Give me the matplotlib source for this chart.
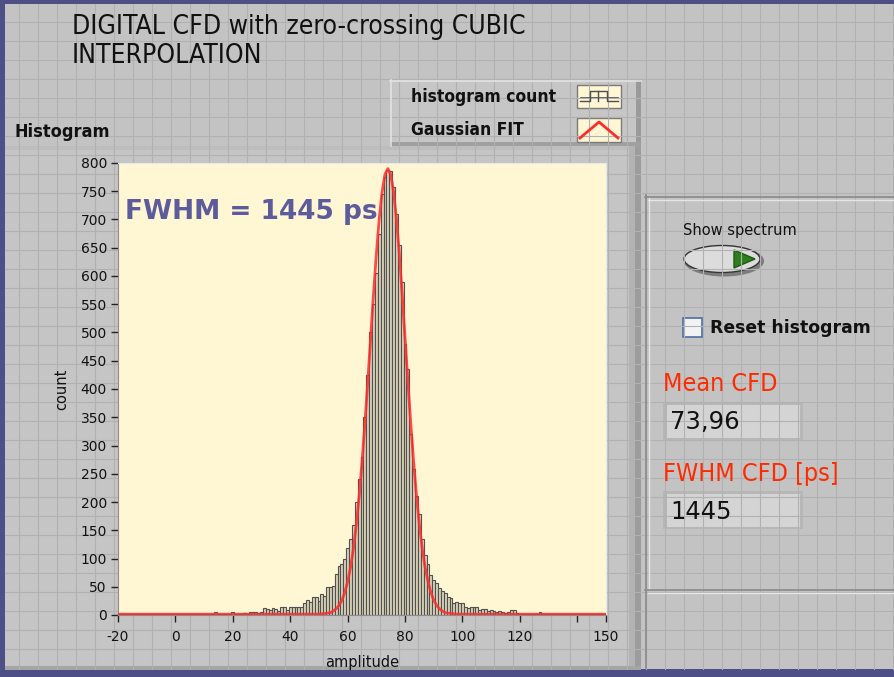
import matplotlib
matplotlib.use("Agg")
import matplotlib.pyplot as plt
from matplotlib.patches import Rectangle, Ellipse, Polygon
from matplotlib import font_manager
import numpy as np

W, H = 894, 677

# histogram bins (amplitude) and counts
amplitude = list(range(-20, 151))
counts = [
    1, 2, 1, 1, 2, 1, 1, 1, 2, 1, 1, 1, 1, 1, 2, 1, 1, 1, 1, 1,          # -20..-1
    1, 2, 1, 1, 2, 1, 1, 2, 1, 1, 2, 1, 1, 2, 5, 2, 1, 2, 1, 2,          # 0..19
    5, 2, 2, 1, 3, 2, 6, 5, 6, 4, 6, 12, 11, 9, 12, 10, 7, 14, 15, 9,    # 20..39
    15, 14, 15, 14, 15, 21, 26, 23, 31, 32, 25, 38, 33, 50, 50, 51, 72, 87, 90, 100,  # 40..59
    118, 135, 160, 200, 240, 280, 350, 425, 500, 550, 605, 675, 745, 776, 787, 786, 758, 710, 655, 590,  # 60..79
    480, 435, 320, 258, 210, 178, 135, 107, 90, 71, 62, 56, 47, 42, 39, 31, 30, 22, 23, 22,  # 80..99
    22, 15, 12, 15, 14, 14, 8, 10, 10, 7, 8, 7, 6, 7, 6, 4, 6, 9, 9, 3,  # 100..119
    2, 2, 1, 2, 2, 1, 2, 5, 2, 1, 2, 1, 1, 2, 1, 1, 2, 1, 1, 2,          # 120..139
    1, 1, 2, 1, 1, 2, 1, 1, 2, 1, 1,                                      # 140..150
]

# Gaussian fit curve
fit_x = [-20, 50, 54, 55, 56, 57, 58, 59, 60, 61, 62, 63, 64, 65, 66, 67, 68, 69, 70, 71, 72, 73,
         74, 75, 76, 77, 78, 79, 80, 81, 82, 83, 84, 85, 86, 87, 88, 89, 90, 91, 92, 93, 94, 98, 150]
fit_y = [1.5, 1.5, 4, 7, 11, 17, 26, 40, 59, 84, 117, 159, 210, 270, 338, 412, 490, 567, 639, 701, 749, 780,
         790, 780, 749, 701, 639, 567, 490, 412, 338, 270, 210, 159, 117, 84, 59, 40, 26, 17, 11, 7, 4, 1.5, 1.5]

x_ticks = [-20, 0, 20, 40, 60, 80, 100, 120, 140, 150]
x_ticklabels = ["-20", "0", "20", "40", "60", "80", "100", "120", "", "150"]
y_ticks = list(range(0, 801, 50))

mean_cfd = "73,96"
fwhm_cfd = "1445"

PANEL = "#c3c3c3"
GRID = "#b1b1b1"
PURPLE = "#4f4f88"
PLOT_BG = "#fff6d4"
BAR = "#d8d2b6"
BAR_EDGE = "#505050"
RED = "#ff2b2b"

narrow = font_manager.FontProperties(family="DejaVu Sans", stretch="condensed")
narrow_b = font_manager.FontProperties(family="DejaVu Sans", stretch="condensed", weight="bold")


def rect(x0, y0, x1, y1):
    return [x0 / W, 1 - y1 / H, (x1 - x0) / W, (y1 - y0) / H]


fig = plt.figure(figsize=(W / 100, H / 100), dpi=100)
fig.patch.set_facecolor(PURPLE)

bg = fig.add_axes([0, 0, 1, 1])
bg.set_xlim(0, W)
bg.set_ylim(H, 0)
bg.axis("off")

# front panel with grid
bg.add_patch(Rectangle((5, 4), W - 5, 665, facecolor=PANEL, edgecolor="none"))
for gx in np.arange(19, W, 19):
    bg.plot([gx, gx], [4, 669], color=GRID, lw=0.8)
for gy in np.arange(22.3, 668, 19):
    bg.plot([5, W], [gy, gy], color=GRID, lw=0.8)

# graph frame
bg.add_patch(Rectangle((5, 146), 636, 524, facecolor="#c5c5c5", edgecolor="none"))
bg.add_patch(Rectangle((5, 146), 636, 4, facecolor="#bdbdbd", edgecolor="none"))
bg.add_patch(Rectangle((629, 146), 6, 524, facecolor="#b3b3b3", edgecolor="none"))
bg.add_patch(Rectangle((635, 146), 6, 524, facecolor="#9c9c9c", edgecolor="none"))
bg.add_patch(Rectangle((5, 666), 636, 4, facecolor="#a5a5a5", edgecolor="none"))

# legend box
bg.add_patch(Rectangle((390, 80), 251, 66, facecolor="#c6c6c6", edgecolor="none"))
bg.plot([390, 641], [80.5, 80.5], color="#e2e2e2", lw=1.2)
bg.plot([390.5, 390.5], [80, 146], color="#e2e2e2", lw=1.2)
bg.add_patch(Rectangle((636, 80), 5, 66, facecolor="#9a9a9a", edgecolor="none"))
bg.add_patch(Rectangle((390, 142), 251, 4, facecolor="#a0a0a0", edgecolor="none"))
bg.text(411, 97, "histogram count", fontproperties=narrow_b, fontsize=12.5,
        va="center", ha="left", color="#111111")
bg.text(411, 130, "Gaussian FIT", fontproperties=narrow_b, fontsize=12.5,
        va="center", ha="left", color="#111111")
bg.add_patch(Rectangle((577, 85), 44, 23, facecolor=PLOT_BG, edgecolor="#7a7a7a", lw=1))
bg.plot([580, 590, 590, 607, 607, 618], [101, 101, 91, 91, 101, 101], color="#505050", lw=1)
bg.plot([598, 598], [91, 101], color="#505050", lw=1)
bg.plot([580, 618], [97, 97], color="#505050", lw=0.6)
bg.add_patch(Rectangle((577, 118), 44, 24, facecolor=PLOT_BG, edgecolor="#7a7a7a", lw=1))
bg.plot([580, 599, 618], [138, 122, 138], color=RED, lw=2)

# title and labels
bg.text(72, 27, "DIGITAL CFD with zero-crossing CUBIC", fontproperties=narrow, fontsize=19,
        va="center", ha="left", color="#111111")
bg.text(72, 56, "INTERPOLATION", fontproperties=narrow, fontsize=19,
        va="center", ha="left", color="#111111")
bg.text(14, 132, "Histogram", fontproperties=narrow_b, fontsize=13,
        va="center", ha="left", color="#111111")

# right control panel
bg.plot([645.5, 645.5], [195, 668], color="#8a8a8a", lw=1.2)
bg.plot([648.5, 648.5], [198, 590], color="#e6e6e6", lw=1)
bg.plot([645, W], [196.5, 196.5], color="#8a8a8a", lw=1.2)
bg.plot([648, W], [199.5, 199.5], color="#e6e6e6", lw=1)
bg.plot([645, W], [589.5, 589.5], color="#8a8a8a", lw=1.2)
bg.plot([648, W], [592.5, 592.5], color="#e6e6e6", lw=1)

bg.text(683, 231, "Show spectrum", fontsize=10.5, va="center", ha="left", color="#111111")
bg.add_patch(Ellipse((724, 261), 80, 31, facecolor="#7c7c7c", edgecolor="none"))
bg.add_patch(Ellipse((722, 259), 76, 27, facecolor="#dcdcdc", edgecolor="#333333", lw=1))
bg.add_patch(Polygon([[734, 250], [734, 268], [755, 259]], closed=True,
                     facecolor="#2e7d1f", edgecolor="#1d5a12"))

bg.add_patch(Rectangle((683, 318), 19, 19, facecolor="#f2f2f2", edgecolor="#4a6fa5", lw=1.2))
bg.text(710, 328, "Reset histogram", fontsize=12.4, fontweight="bold",
        va="center", ha="left", color="#111111")

bg.text(663, 384, "Mean CFD", fontproperties=narrow, fontsize=18, va="center", ha="left",
        color="#ff2a00")
bg.add_patch(Rectangle((663, 402), 140, 38, facecolor="#b7b7b7", edgecolor="none"))
bg.add_patch(Rectangle((667, 405), 133, 33, facecolor="#d4d4d4", edgecolor="none"))
bg.text(670, 422, mean_cfd, fontsize=17.5, va="center", ha="left", color="#111111")

bg.text(663, 474, "FWHM CFD [ps]", fontproperties=narrow, fontsize=18, va="center", ha="left",
        color="#ff2a00")
bg.add_patch(Rectangle((663, 491), 140, 38, facecolor="#b7b7b7", edgecolor="none"))
bg.add_patch(Rectangle((667, 494), 133, 33, facecolor="#d4d4d4", edgecolor="none"))
bg.text(670, 512, fwhm_cfd, fontsize=17.5, va="center", ha="left", color="#111111")

# histogram graph
ax = fig.add_axes(rect(118, 163, 606, 615))
ax.set_facecolor(PLOT_BG)
ax.bar(amplitude, counts, width=1.0, color=BAR, edgecolor=BAR_EDGE, linewidth=0.8, zorder=2)
ax.plot(fit_x, fit_y, color=RED, lw=2.0, alpha=0.85, zorder=3)
ax.set_xlim(-20, 150)
ax.set_ylim(0, 800)
ax.set_xticks(x_ticks)
ax.set_xticklabels(x_ticklabels)
ax.set_yticks(y_ticks)
ax.tick_params(axis="both", labelsize=10, length=5, width=1, color="#222222",
               labelcolor="#111111", pad=3)
ax.tick_params(axis="x", pad=6)
for side in ["top", "right"]:
    ax.spines[side].set_color("#e8e8e8")
for side in ["left", "bottom"]:
    ax.spines[side].set_color("#8c8c8c")
ax.set_xlabel("amplitude", fontsize=10.5, color="#111111", labelpad=8)
ax.set_ylabel("count", fontsize=10.5, color="#111111", labelpad=8)
ax.text(-17.6, 713, "FWHM = 1445 ps", fontsize=19, fontweight="bold", color="#5c5c9c",
        va="center", ha="left", transform=ax.transData, zorder=4)

fig.savefig("out.png", dpi=100, facecolor=fig.get_facecolor())
